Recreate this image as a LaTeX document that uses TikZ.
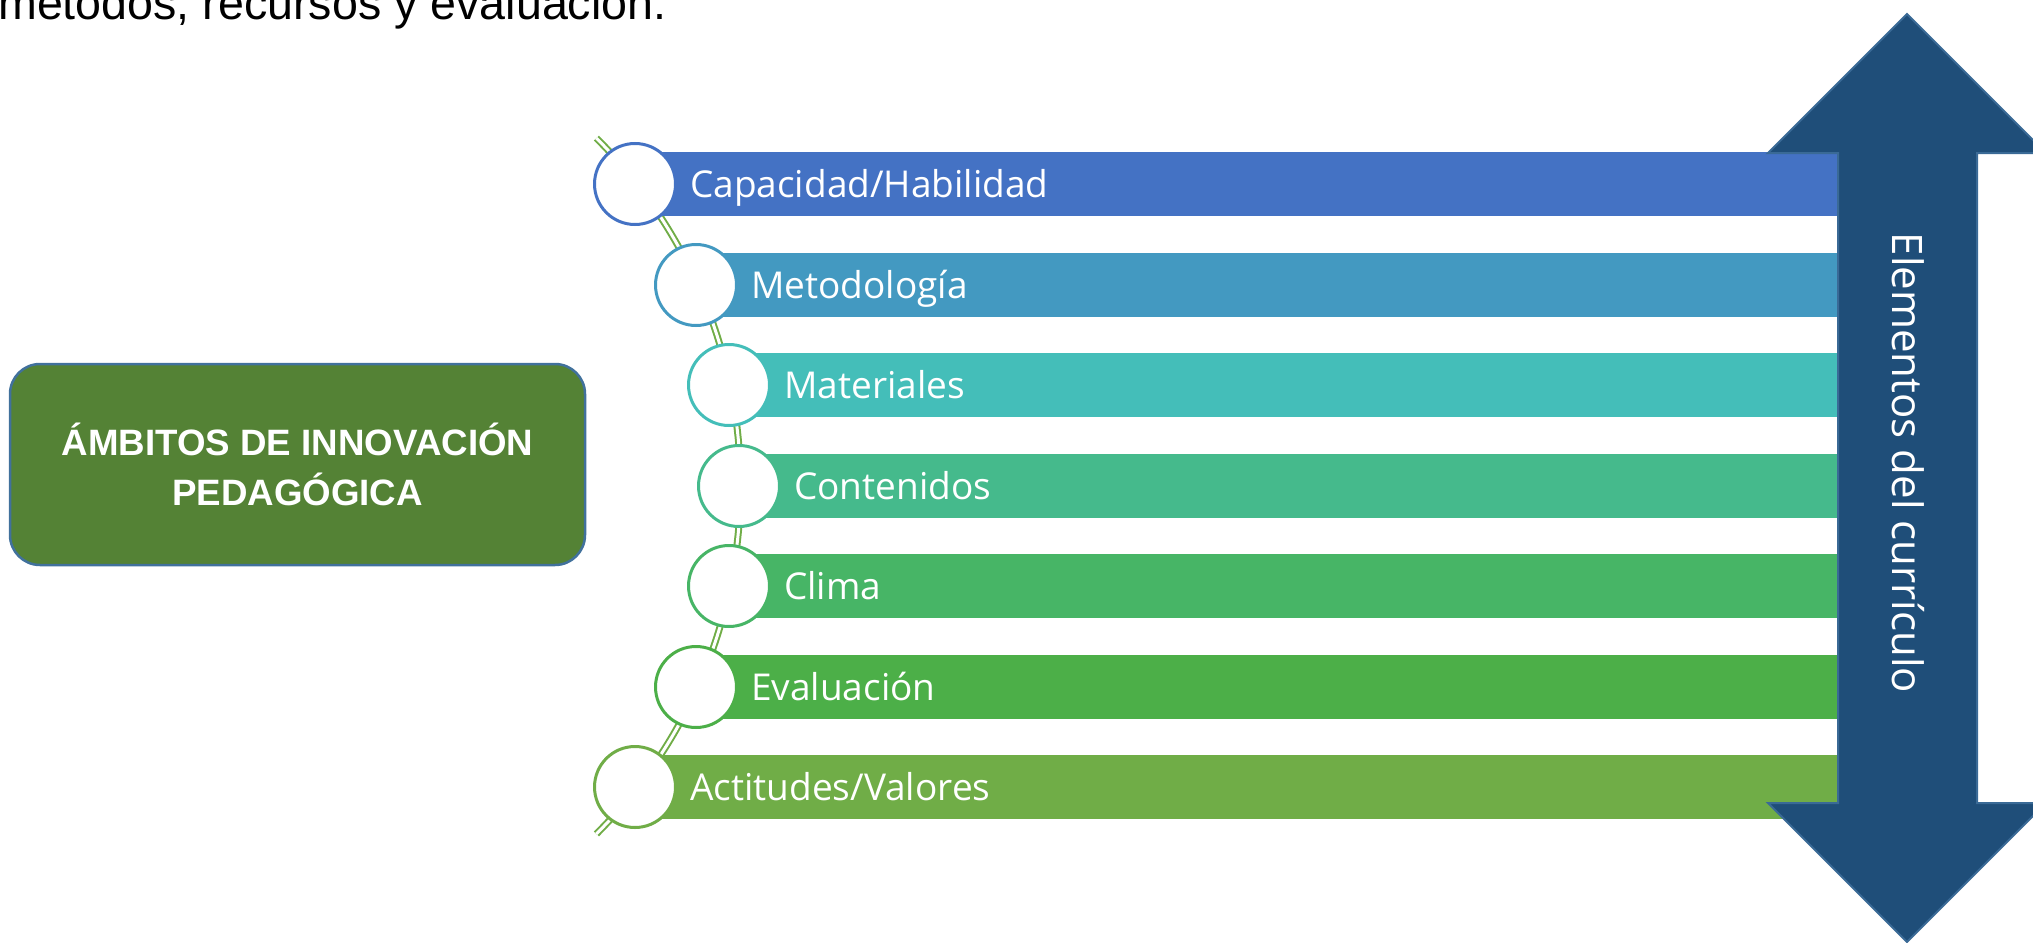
\documentclass[tikz,border=0pt]{standalone}
\usepackage{fontspec}
\setmainfont{Open Sans}
\newfontfamily\arialfont{Liberation Sans}
\definecolor{cA}{HTML}{4472C4}
\definecolor{cB}{HTML}{4399C1}
\definecolor{cC}{HTML}{44BEB9}
\definecolor{cD}{HTML}{45BA8C}
\definecolor{cE}{HTML}{47B566}
\definecolor{cF}{HTML}{4CAF48}
\definecolor{cG}{HTML}{70AD47}
\definecolor{boxgreen}{HTML}{548235}
\definecolor{boxedge}{HTML}{41719C}
\definecolor{arrfill}{HTML}{1F4E79}
\definecolor{arredge}{HTML}{3A6A96}
\tikzset{
  barbox/.style={draw=none, minimum height=64pt, inner sep=0pt, anchor=west},
  dotbox/.style={circle, fill=white, line width=3pt, minimum size=81pt, inner sep=0pt},
  lbl/.style={text=white, font=\fontsize{37}{44}\selectfont, anchor=base west, inner sep=0pt},
  curveline/.style={draw=cG, double=white, line width=2pt, double distance=3pt},
}
\begin{document}
\begin{tikzpicture}[x=1pt,y=-1pt]
\useasboundingbox (0,0) rectangle (2033,942);
\clip (0,0) rectangle (2033,942);

% top text (cut off)
\node[anchor=base west, inner sep=0pt, font=\arialfont\fontsize{46.6}{54}\selectfont] (toptext) at (-2,20) {métodos, recursos y evaluación.};

% left box
\node[draw=boxedge, line width=2.5pt, fill=boxgreen, rounded corners=30pt,
      minimum width=575pt, minimum height=201pt, inner sep=0pt,
      text=white, align=center,
      font=\arialfont\bfseries\fontsize{36.7}{50}\selectfont] (ambitos) at (297.5,464.5)
      {ÁMBITOS DE INNOVACIÓN\\PEDAGÓGICA};

% curved double line
\coordinate (arccenter) at (248.5,486);
\draw[curveline] (arccenter) ++(-45:492) arc[start angle=-45, end angle=45, radius=492];

% bars
\node[barbox, fill=cA, minimum width=1203pt] (b1) at (635,184) {};
\node[barbox, fill=cB, minimum width=1142pt] (b2) at (696,285) {};
\node[barbox, fill=cC, minimum width=1109pt] (b3) at (729,385) {};
\node[barbox, fill=cD, minimum width=1099pt] (b4) at (739,486) {};
\node[barbox, fill=cE, minimum width=1109pt] (b5) at (729,586) {};
\node[barbox, fill=cF, minimum width=1142pt] (b6) at (696,687) {};
\node[barbox, fill=cG, minimum width=1203pt] (b7) at (635,787) {};

% circles
\node[dotbox, draw=cA] (k1) at (635,184) {};
\node[dotbox, draw=cB] (k2) at (696,285) {};
\node[dotbox, draw=cC] (k3) at (729,385) {};
\node[dotbox, draw=cD] (k4) at (739,486) {};
\node[dotbox, draw=cE] (k5) at (729,586) {};
\node[dotbox, draw=cF] (k6) at (696,687) {};
\node[dotbox, draw=cG] (k7) at (635,787) {};

% labels
\node[lbl] (t1) at (690,197) {Capacidad/Habilidad};
\node[lbl] (t2) at (751,298) {Metodología};
\node[lbl] (t3) at (784,398) {Materiales};
\node[lbl] (t4) at (794,499) {Contenidos};
\node[lbl] (t5) at (784,599) {Clima};
\node[lbl] (t6) at (751,700) {Evaluación};
\node[lbl] (t7) at (690,800) {Actitudes/Valores};

% double arrow
\draw[fill=arrfill, draw=arredge, line width=2pt, line join=miter]
  (1907,14) -- (2046,153) -- (1977,153) -- (1977,803) -- (2046,803) -- (1907,942)
  -- (1768,803) -- (1838,803) -- (1838,153) -- (1768,153) -- cycle;
\node[rotate=-90, text=white, inner sep=0pt, font=\fontsize{42}{50}\selectfont] (elem) at (1908,463) {Elementos del currículo};
\end{tikzpicture}
\end{document}
